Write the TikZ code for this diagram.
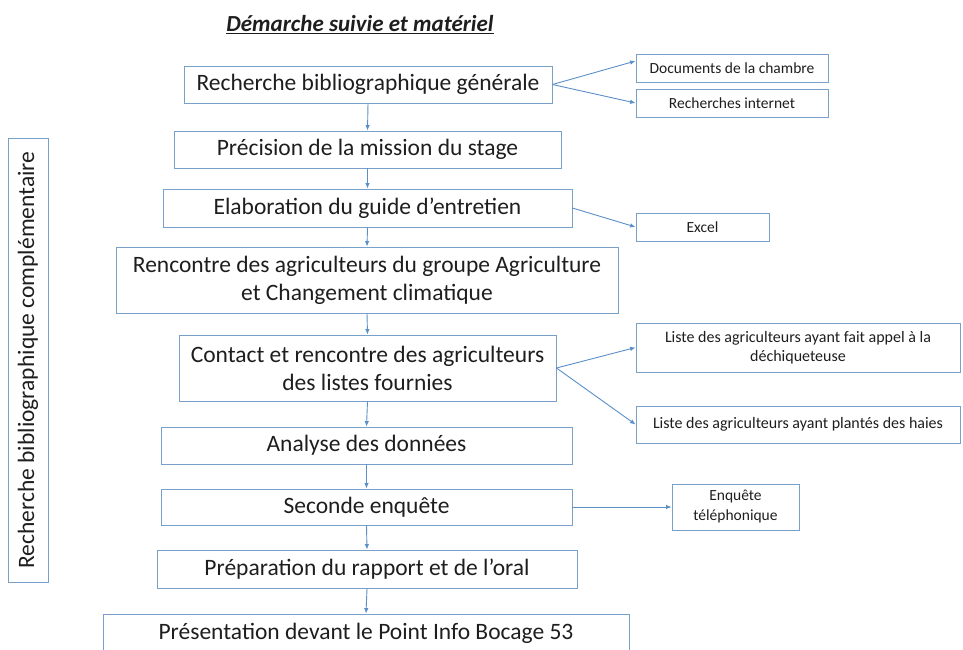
\documentclass[tikz,border=0pt]{standalone}
\usepackage{fontspec}
\setmainfont{Carlito}
\usepackage{tikz}
\usetikzlibrary{arrows.meta}

\definecolor{boxblue}{RGB}{120,160,200}
\definecolor{arrowblue}{RGB}{91,143,199}
\definecolor{textgrey}{RGB}{30,30,30}

\begin{document}
\begin{tikzpicture}[
            x=1pt,
            y=-1pt,
            mainbox/.style={draw=boxblue, line width=0.9pt, text=textgrey, align=center, inner sep=0pt, font=\fontsize{23.5}{28}\selectfont},
            sidebox/.style={draw=boxblue, line width=0.9pt, text=textgrey, align=center, inner sep=0pt, font=\fontsize{15.5}{20}\selectfont},
            flow/.style={draw=arrowblue, line width=0.9pt, -{Latex[length=5.5pt,width=4.5pt]}},
        ]
        \useasboundingbox (0,0) rectangle (963,649);
        \clip (0,0) rectangle (963,649);
        % Title
        \node[text=textgrey, font=\fontsize{23}{27}\selectfont] (titre) at (360,25) {\underline{\textbf{\textit{Démarche suivie et matériel}}}};
        % Main sequence
        \node[mainbox, minimum width=368, minimum height=37] (recherche) at (368,84.5) {Recherche bibliographique générale};
        \node[mainbox, minimum width=387, minimum height=37] (precision) at (367.5,149.5) {Précision de la mission du stage};
        \node[mainbox, minimum width=409, minimum height=38] (guide) at (367.5,208) {Elaboration du guide d’entretien};
        \node[mainbox, minimum width=502, minimum height=66] (rencontre) at (367,280) {Rencontre des agriculteurs du groupe Agriculture\\et Changement climatique};
        \node[mainbox, minimum width=377, minimum height=66] (contact) at (367.5,368) {Contact et rencontre des agriculteurs\\des listes fournies};
        \node[mainbox, minimum width=411, minimum height=37] (analyse) at (366.5,445.5) {Analyse des données};
        \node[mainbox, minimum width=411, minimum height=36] (enquete) at (366.5,507) {Seconde enquête};
        \node[mainbox, minimum width=420, minimum height=38] (rapport) at (367,569) {Préparation du rapport et de l’oral};
        \node[mainbox, minimum width=526, minimum height=38] (presentation) at (366,633) {Présentation devant le Point Info Bocage 53};
        % Material on the right
        \node[sidebox, minimum width=192, minimum height=28] (documents) at (732,68) {Documents de la chambre};
        \node[sidebox, minimum width=192, minimum height=28] (internet) at (732,103) {Recherches internet};
        \node[sidebox, minimum width=133, minimum height=28] (excel) at (702.5,227) {Excel};
        \node[sidebox, minimum width=324, minimum height=49, font=\fontsize{16}{19}\selectfont] (listeA) at (798,347.5) {Liste des agriculteurs ayant fait appel à la\\déchiqueteuse};
        \node[sidebox, minimum width=324, minimum height=37, font=\fontsize{16}{19}\selectfont] (listeB) at (798,424.5) {Liste des agriculteurs ayant plantés des haies};
        \node[sidebox, minimum width=127, minimum height=46] (telephone) at (735.5,507) {Enquête\\téléphonique};
        % Left: running alongside
        \node[mainbox, minimum width=444, minimum height=40, rotate=90] (complement) at (28,360) {Recherche bibliographique complémentaire};
        % Arrows
        \draw[flow] (recherche.south) -- (precision.north);
        \draw[flow] (precision.south) -- (guide.north);
        \draw[flow] (guide.south) -- (rencontre.north);
        \draw[flow] (rencontre.south) -- (contact.north);
        \draw[flow] (contact.south) -- (analyse.north);
        \draw[flow] (analyse.south) -- (enquete.north);
        \draw[flow] (enquete.south) -- (rapport.north);
        \draw[flow] (rapport.south) -- (presentation.north);
        \draw[flow] (recherche.east) -- ([yshift=7pt]documents.west);
        \draw[flow] (recherche.east) -- (internet.west);
        \draw[flow] (guide.east) -- (excel.west);
        \draw[flow] (contact.east) -- (listeA.west);
        \draw[flow] (contact.east) -- (listeB.west);
        \draw[flow] (enquete.east) -- (telephone.west);
\end{tikzpicture}
\end{document}
